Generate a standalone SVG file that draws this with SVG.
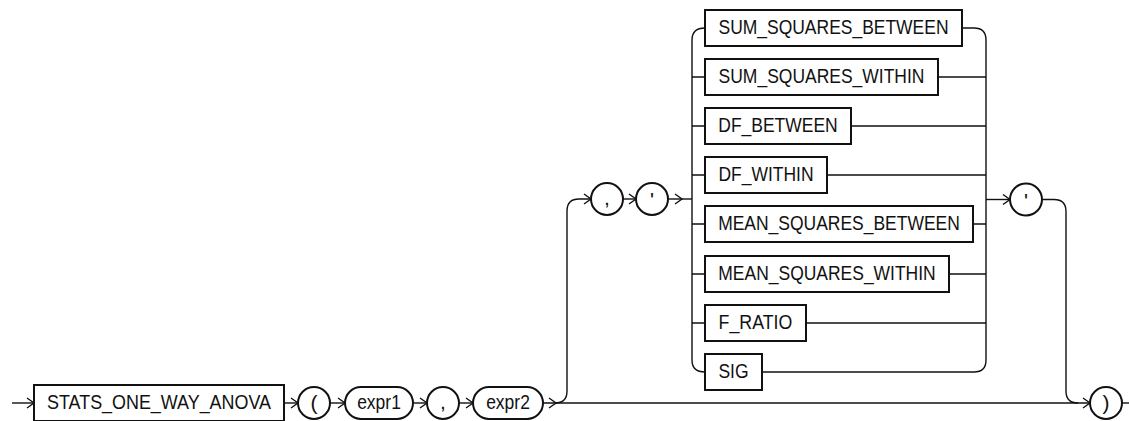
<svg xmlns="http://www.w3.org/2000/svg" width="1129" height="421" viewBox="0 0 1129 421">
<defs>
<style>
.box{fill:#fff;stroke:#111;stroke-width:2}
.ln{fill:none;stroke:#111;stroke-width:1.4}
.t{font-family:"Liberation Sans",Arial,sans-serif;font-size:21px;fill:#111}
.m{text-anchor:middle}
</style>
<path id="ah" d="M-7,-5 L0,0 L-7,5" fill="none" stroke="#111" stroke-width="1.4"/>
</defs>
<rect width="1129" height="421" fill="#fff"/>
<g id="connectors">
<path class="ln" d="M12 403 H34"/>
<path class="ln" d="M284 403 H298"/>
<path class="ln" d="M330 403 H345"/>
<path class="ln" d="M413 403 H427"/>
<path class="ln" d="M459 403 H473"/>
<path class="ln" d="M543 403 H1090"/>
<path class="ln" d="M1122 403 H1129"/>
<path class="ln" d="M555 403 Q567 403 567 391 V211 Q567 199 579 199 H591"/>
<path class="ln" d="M623 199 H636"/>
<path class="ln" d="M668 199 H692"/>
<path class="ln" d="M705 28 Q692 28 692 40 V360 Q692 372 705 372"/>
<path class="ln" d="M692 77 H705 M692 126 H705 M692 175 H705 M692 224 H705 M692 274 H705 M692 323 H705"/>
<path class="ln" d="M962 28 H974 Q986 28 986 40 V360 Q986 372 974 372 H762"/>
<path class="ln" d="M938 77 H986 M851 126 H986 M827 175 H986 M973 224 H986 M949 274 H986 M806 323 H986"/>
<path class="ln" d="M986 199.5 H1010"/>
<path class="ln" d="M1042 199.5 H1054 Q1066 199.5 1066 211.5 V391 Q1066 403 1078 403"/>
<use href="#ah" x="34" y="403"/>
<use href="#ah" x="298" y="403"/>
<use href="#ah" x="345" y="403"/>
<use href="#ah" x="427" y="403"/>
<use href="#ah" x="473" y="403"/>
<use href="#ah" x="556" y="403"/>
<use href="#ah" x="1090" y="403"/>
<use href="#ah" x="591" y="199"/>
<use href="#ah" x="636" y="199"/>
<use href="#ah" x="682" y="199"/>
<use href="#ah" x="1010" y="199.5"/>
</g>
<g id="n-stats"><rect class="box" x="34" y="385" width="250" height="36"/><text class="t m" x="159" y="409" textLength="224" lengthAdjust="spacingAndGlyphs">STATS_ONE_WAY_ANOVA</text></g>
<g id="n-lparen"><circle class="box" cx="314" cy="403" r="16"/><text class="t m" x="314" y="410">(</text></g>
<g id="n-expr1"><rect class="box" x="345" y="387" width="68" height="32" rx="16"/><text class="t m" x="379" y="409" textLength="43.7" lengthAdjust="spacingAndGlyphs">expr1</text></g>
<g id="n-comma1"><circle class="box" cx="443" cy="403" r="16"/><text class="t m" x="443" y="409">,</text></g>
<g id="n-expr2"><rect class="box" x="473" y="387" width="70" height="32" rx="16"/><text class="t m" x="508" y="409" textLength="43.7" lengthAdjust="spacingAndGlyphs">expr2</text></g>
<g id="n-comma2"><circle class="box" cx="607" cy="199" r="16"/><text class="t m" x="607" y="205">,</text></g>
<g id="n-quote1"><circle class="box" cx="652" cy="199" r="16"/><text class="t m" x="652" y="207">'</text></g>
<g id="n-ssb"><rect class="box" x="705" y="10" width="257" height="36"/><text class="t m" x="833.5" y="34" textLength="230" lengthAdjust="spacingAndGlyphs">SUM_SQUARES_BETWEEN</text></g>
<g id="n-ssw"><rect class="box" x="705" y="59" width="233" height="36"/><text class="t m" x="821.5" y="83" textLength="205.8" lengthAdjust="spacingAndGlyphs">SUM_SQUARES_WITHIN</text></g>
<g id="n-dfb"><rect class="box" x="705" y="108" width="146" height="36"/><text class="t m" x="778" y="132" textLength="119.4" lengthAdjust="spacingAndGlyphs">DF_BETWEEN</text></g>
<g id="n-dfw"><rect class="box" x="705" y="157" width="122" height="36"/><text class="t m" x="766" y="181" textLength="95.1" lengthAdjust="spacingAndGlyphs">DF_WITHIN</text></g>
<g id="n-msb"><rect class="box" x="705" y="206" width="268" height="36"/><text class="t m" x="839" y="230" textLength="241.7" lengthAdjust="spacingAndGlyphs">MEAN_SQUARES_BETWEEN</text></g>
<g id="n-msw"><rect class="box" x="705" y="256" width="244" height="36"/><text class="t m" x="827" y="280" textLength="217.4" lengthAdjust="spacingAndGlyphs">MEAN_SQUARES_WITHIN</text></g>
<g id="n-fratio"><rect class="box" x="705" y="305" width="101" height="36"/><text class="t m" x="755.5" y="329" textLength="73.8" lengthAdjust="spacingAndGlyphs">F_RATIO</text></g>
<g id="n-sig"><rect class="box" x="705" y="354" width="57" height="36"/><text class="t m" x="733.5" y="378" textLength="30.1" lengthAdjust="spacingAndGlyphs">SIG</text></g>
<g id="n-quote2"><circle class="box" cx="1026" cy="199.5" r="16"/><text class="t m" x="1026" y="207.5">'</text></g>
<g id="n-rparen"><circle class="box" cx="1106" cy="403" r="16"/><text class="t m" x="1106" y="410">)</text></g>
</svg>
